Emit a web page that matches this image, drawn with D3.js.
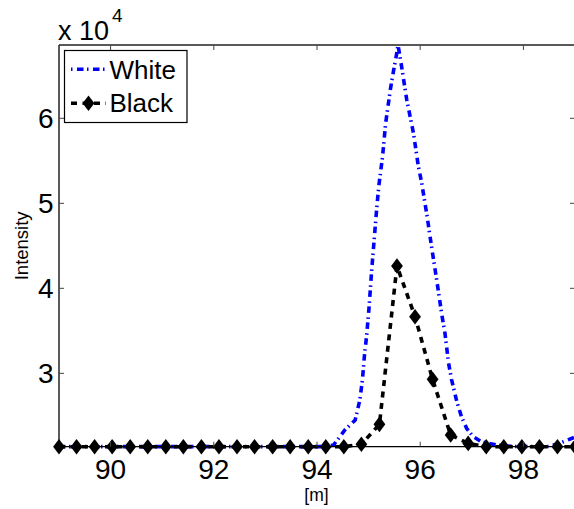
<!DOCTYPE html>
<html><head><meta charset="utf-8">
<script src="https://cdn.jsdelivr.net/npm/d3@7"></script>
<style>
body{margin:0;background:#fff}
svg{display:block}
text{font-family:"Liberation Sans",Arial,Helvetica,sans-serif;fill:#000}
</style>
</head><body>
<svg id="c" width="574" height="509"></svg>
<script>
// ---- data ----
const blackX = [89.00, 89.34, 89.69, 90.03, 90.38, 90.72, 91.07, 91.41, 91.76, 92.10,
                92.45, 92.79, 93.14, 93.48, 93.83, 94.17, 94.52, 94.86, 95.21, 95.55,
                95.90, 96.24, 96.59, 96.93, 97.28, 97.62, 97.97, 98.31, 98.66, 99.00];
const blackY = [21370, 21370, 21370, 21370, 21370, 21370, 21370, 21370, 21370, 21370,
                21370, 21370, 21370, 21370, 21370, 21370, 21370, 21650, 24000, 42620,
                36660, 29290, 22740, 21760, 21370, 21370, 21370, 21370, 21370, 21370];
const whiteX = [89.00, 94.10, 94.32, 94.54, 94.74, 94.83, 94.88, 94.92, 94.96, 95.01,
                95.06, 95.11, 95.16, 95.20, 95.27, 95.33, 95.42, 95.48, 95.54, 95.57,
                95.64, 95.74, 95.87, 95.96, 96.03, 96.13, 96.22, 96.32, 96.42, 96.48,
                96.55, 96.61, 96.71, 96.80, 96.90, 97.03, 97.19, 97.48, 97.80, 98.50,
                98.71, 98.86, 99.00];
const whiteY = [21380, 21380, 21560, 23330, 24510, 26860, 29210, 32150, 34310, 37840,
                42150, 45880, 49600, 52150, 55480, 59410, 63330, 65480, 67450, 68620,
                66070, 62150, 58240, 54510, 52350, 48620, 44890, 40980, 36860, 34710,
                31180, 29210, 26660, 24890, 23530, 22540, 21950, 21560, 21400, 21400,
                21800, 22160, 22500];
const xTicks = [90, 92, 94, 96, 98];
const yTicks = [30000, 40000, 50000, 60000];
const xDomain = [89, 99];
const yDomain = [21370, 68620];
const seriesNames = ["White", "Black"];
const xLabel = "[m]";
const yLabel = "Intensity";

// ---- layout ----
const svg = d3.select("#c");
const L = 59, R = 575, T = 45, B = 446.7;
const x = d3.scaleLinear().domain(xDomain).range([L, R]);
const y = d3.scaleLinear().domain(yDomain).range([B, T]);

const tickLen = 5;
const g = svg.append("g");

// lines
const lineW = d3.line().x((d,i)=>x(whiteX[i])).y(d=>y(d));
g.append("path").attr("d", lineW(whiteY))
  .attr("fill","none").attr("stroke","#0000ff").attr("stroke-width",3.6)
  .attr("stroke-dasharray","6.5,3.5,1.5,4.5");

const lineB = d3.line().x((d,i)=>x(blackX[i])).y(d=>y(d));
g.append("path").attr("d", lineB(blackY))
  .attr("fill","none").attr("stroke","#000").attr("stroke-width",3.6)
  .attr("stroke-dasharray","6,5.5");

const diamond = (cx, cy) => `M${cx},${cy-7.8}L${cx+5.9},${cy}L${cx},${cy+7.8}L${cx-5.9},${cy}Z`;
g.selectAll("path.mk").data(blackY).enter().append("path")
  .attr("class","mk")
  .attr("d",(d,i)=>diamond(x(blackX[i]), y(d)))
  .attr("fill","#000");

// axes box
const ax = svg.append("g");
ax.append("line").attr("x1",L).attr("x2",L).attr("y1",T).attr("y2",B).attr("stroke","#000").attr("stroke-width",1.3);
ax.append("line").attr("x1",L).attr("x2",R).attr("y1",B).attr("y2",B).attr("stroke","#000").attr("stroke-width",1.3);
ax.append("line").attr("x1",L).attr("x2",R).attr("y1",T).attr("y2",T).attr("stroke","#222").attr("stroke-width",1.3);
ax.append("line").attr("x1",R).attr("x2",R).attr("y1",T).attr("y2",B).attr("stroke","#222").attr("stroke-width",1.3);

// x ticks
xTicks.forEach(t=>{
  ax.append("line").attr("x1",x(t)).attr("x2",x(t)).attr("y1",B).attr("y2",B-tickLen).attr("stroke","#444");
  ax.append("line").attr("x1",x(t)).attr("x2",x(t)).attr("y1",T).attr("y2",T+tickLen).attr("stroke","#444");
  ax.append("text").attr("x",x(t)).attr("y",479).attr("text-anchor","middle").attr("font-size",28).text(t);
});
// y ticks
yTicks.forEach(t=>{
  ax.append("line").attr("x1",L).attr("x2",L+tickLen).attr("y1",y(t)).attr("y2",y(t)).attr("stroke","#444");
  ax.append("line").attr("x1",R).attr("x2",R-tickLen).attr("y1",y(t)).attr("y2",y(t)).attr("stroke","#444");
  ax.append("text").attr("x",53.5).attr("y",y(t)+10).attr("text-anchor","end").attr("font-size",28).text(t/10000);
});

// exponent
svg.append("text").attr("x",58).attr("y",40).attr("font-size",27).text("x 10");
svg.append("text").attr("x",112).attr("y",22).attr("font-size",19).text("4");

// axis labels
svg.append("text").attr("transform",`translate(28,${(T+B)/2}) rotate(-90)`)
  .attr("text-anchor","middle").attr("font-size",18.5).text(yLabel);
svg.append("text").attr("x",316.5).attr("y",501).attr("text-anchor","middle").attr("font-size",17.5).text(xLabel);

// legend
const lg = svg.append("g");
lg.append("rect").attr("x",64.5).attr("y",50.5).attr("width",122.5).attr("height",72)
  .attr("fill","#fff").attr("stroke","#000").attr("stroke-width",1.2);
lg.append("line").attr("x1",71).attr("x2",106).attr("y1",69.3).attr("y2",69.3)
  .attr("stroke","#0000ff").attr("stroke-width",3.6).attr("stroke-dasharray","1.5,4.5,6.5,3.5");
lg.append("line").attr("x1",71).attr("x2",106).attr("y1",103.3).attr("y2",103.3)
  .attr("stroke","#000").attr("stroke-width",3.6).attr("stroke-dasharray","6,5.5");
lg.append("path").attr("d",diamond(88.5,103.3)).attr("fill","#000");
lg.append("text").attr("x",109.5).attr("y",78.5).attr("font-size",26).text(seriesNames[0]);
lg.append("text").attr("x",109.5).attr("y",112).attr("font-size",26).text(seriesNames[1]);
</script>
</body></html>
